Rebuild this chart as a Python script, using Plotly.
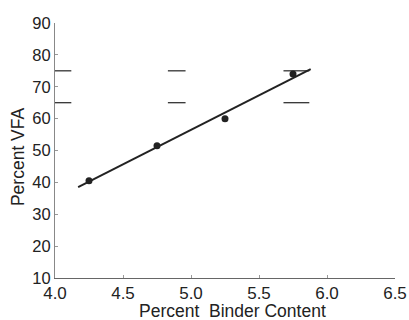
import plotly.graph_objects as go

# Data
binder = [4.25, 4.75, 5.25, 5.75]
vfa = [40.5, 51.5, 60.0, 74.0]

fit_x = [4.17, 5.88]
fit_y = [38.5, 75.5]

spec_limits = [65, 75]
dash_start = [4.0, 4.83, 5.68]
dash_end = [4.12, 4.96, 5.87]

x_ticks = [4.0, 4.5, 5.0, 5.5, 6.0, 6.5]
x_ticklabels = ["4.0", "4.5", "5.0", "5.5", "6.0", "6.5"]
y_ticks = [10, 20, 30, 40, 50, 60, 70, 80, 90]

x_title = "Percent  Binder Content"
y_title = "Percent VFA"

FONT = "Liberation Sans, Arial, sans-serif"
INK = "#222222"

fig = go.Figure()

# specification limit dashes
dx, dy = [], []
for lim in spec_limits:
    for s, e in zip(dash_start, dash_end):
        dx += [s, e, None]
        dy += [lim, lim, None]
fig.add_trace(go.Scatter(x=dx, y=dy, mode="lines",
                         line=dict(color="#333333", width=1.3),
                         hoverinfo="skip", showlegend=False, cliponaxis=False))

# fitted line
fig.add_trace(go.Scatter(x=fit_x, y=fit_y, mode="lines",
                         line=dict(color=INK, width=2),
                         showlegend=False))

# data points
fig.add_trace(go.Scatter(x=binder, y=vfa, mode="markers",
                         marker=dict(color=INK, size=7),
                         showlegend=False))

fig.update_layout(
    width=409, height=320,
    margin=dict(l=55, r=14, t=23, b=42),
    paper_bgcolor="white", plot_bgcolor="white",
    font=dict(family=FONT, color=INK, size=17),
    xaxis=dict(range=[4.0, 6.5], tickvals=x_ticks, ticktext=x_ticklabels,
               automargin=False,
               showgrid=False, zeroline=False, showline=True,
               linecolor="#666666", linewidth=1,
               ticks="inside", ticklen=3, tickcolor="#999999",
               tickfont=dict(size=17)),
    yaxis=dict(range=[10, 90], tickvals=y_ticks,
               automargin=False,
               showgrid=False, zeroline=False, showline=True,
               linecolor="#888888", linewidth=1,
               ticks="inside", ticklen=3, tickcolor="#999999",
               tickfont=dict(size=16.5)),
    annotations=[
        dict(text=x_title, xref="paper", yref="paper", x=0.522, y=-0.129,
             xanchor="center", yanchor="middle", showarrow=False,
             font=dict(size=17.5, family=FONT, color=INK)),
        dict(text=y_title, xref="paper", yref="paper", x=-0.109, y=0.478,
             xanchor="center", yanchor="middle", showarrow=False, textangle=-90,
             font=dict(size=17.5, family=FONT, color=INK)),
    ],
)

fig.write_html("out.html", config={"displayModeBar": False},
               post_script="document.body.style.margin='0';document.body.style.padding='0';")
